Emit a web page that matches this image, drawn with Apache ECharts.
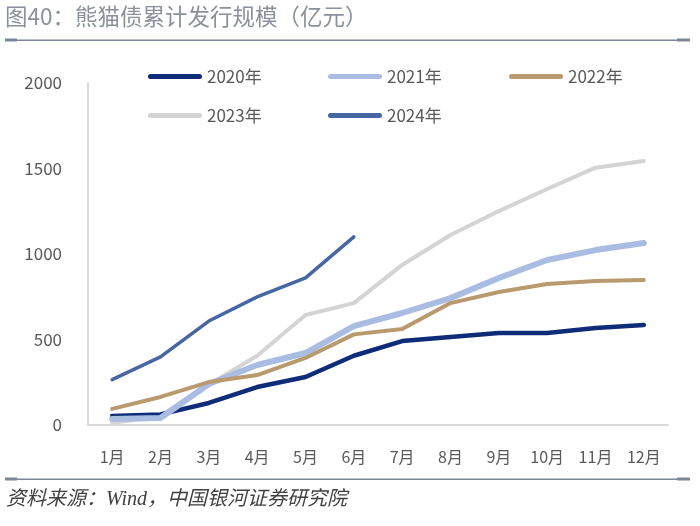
<!DOCTYPE html>
<html><head><meta charset="utf-8">
<script src="https://cdn.jsdelivr.net/npm/echarts@6/dist/echarts.min.js"></script>
<style>html,body{margin:0;padding:0;background:#fff}#c{width:700px;height:526px}</style>
</head><body><div id="c"></div>
<script>
var months = ['1月','2月','3月','4月','5月','6月','7月','8月','9月','10月','11月','12月'];
var yTicks = [0, 500, 1000, 1500, 2000];
var s2020 = [53, 62, 129, 222, 281, 405, 491, 515, 538, 538, 567, 585];
var s2021 = [35, 41, 240, 351, 421, 578, 655, 742, 860, 965, 1023, 1064];
var s2022 = [94, 164, 251, 292, 392, 530, 561, 713, 778, 824, 842, 848];
var s2023 = [12, 53, 235, 405, 643, 713, 936, 1111, 1251, 1380, 1505, 1544];
var s2024 = [265, 398, 608, 749, 860, 1100];
var names = ['2020年','2021年','2022年','2023年','2024年'];
var colors = ['#0e2c78', '#a9bde3', '#b89a6e', '#d4d4d4', '#4767a3'];
var widths = [4.5, 6, 4, 4, 3.5];
var dataAll = [s2020, s2021, s2022, s2023, s2024];

var chart = echarts.init(document.getElementById('c'));
var font = '"Noto Sans CJK SC", "Noto Sans", sans-serif';
var legendPos = [[148, 68], [328, 68], [509, 68], [148, 107], [328, 107]];
var legends = names.map(function (n, i) {
  return {
    data: [n], left: legendPos[i][0], top: legendPos[i][1], padding: 0,
    itemWidth: 54, itemHeight: 20, itemGap: 0,
    icon: 'path://M2.5,0 L51.5,0 A2.5,2.5 0 0 1 51.5,5 L2.5,5 A2.5,2.5 0 0 1 2.5,0 Z',
    textStyle: { fontSize: 17, color: '#595959', fontFamily: font }
  };
});
chart.setOption({
  animation: false,
  textStyle: { fontFamily: font },
  graphic: [
    { type: 'text', left: 5, top: 5, style: { text: '图40：熊猫债累计发行规模（亿元）', fontSize: 22.5, fill: '#8a909c', fontFamily: font } },
    { type: 'rect', shape: { x: 5, y: 39.5, width: 685, height: 1.5 }, style: { fill: '#7c8697' } },
    { type: 'rect', shape: { x: 5, y: 38.5, width: 12, height: 3 }, style: { fill: '#7c8697' } },
    { type: 'rect', shape: { x: 677, y: 38.5, width: 13, height: 3 }, style: { fill: '#7c8697' } },
    { type: 'rect', shape: { x: 5, y: 478.5, width: 685, height: 1.5 }, style: { fill: '#7c8697' } },
    { type: 'rect', shape: { x: 5, y: 477.5, width: 12, height: 3 }, style: { fill: '#7c8697' } },
    { type: 'rect', shape: { x: 677, y: 477.5, width: 13, height: 3 }, style: { fill: '#7c8697' } },
    { type: 'text', left: 6, top: 490, style: { text: '资料来源：Wind，中国银河证券研究院', fontSize: 20, fill: '#404040', fontStyle: 'italic', fontFamily: '"Liberation Serif", "Noto Sans CJK SC", serif' } }
  ],
  legend: legends,
  grid: { left: 88, right: 32, top: 83, bottom: 101 },
  xAxis: {
    type: 'category', data: months, boundaryGap: true,
    axisLine: { lineStyle: { color: '#d9d9d9', width: 2 } },
    axisTick: { show: false },
    axisLabel: { fontSize: 16, color: '#595959', margin: 24, fontFamily: font }
  },
  yAxis: {
    type: 'value', min: yTicks[0], max: yTicks[yTicks.length - 1], interval: 500,
    axisLine: { show: true, lineStyle: { color: '#d9d9d9', width: 2 } },
    axisTick: { show: false },
    splitLine: { show: false },
    axisLabel: { fontSize: 17, color: '#595959', margin: 26, fontFamily: font, formatter: function (v) { return String(v); } }
  },
  series: names.map(function (n, i) {
    return {
      name: n, type: 'line', data: dataAll[i], symbol: 'none',
      lineStyle: { color: colors[i], width: widths[i], cap: 'round', join: 'round' },
      itemStyle: { color: colors[i] }, z: [2, 3, 4, 1, 5][i]
    };
  })
});
</script></body></html>
